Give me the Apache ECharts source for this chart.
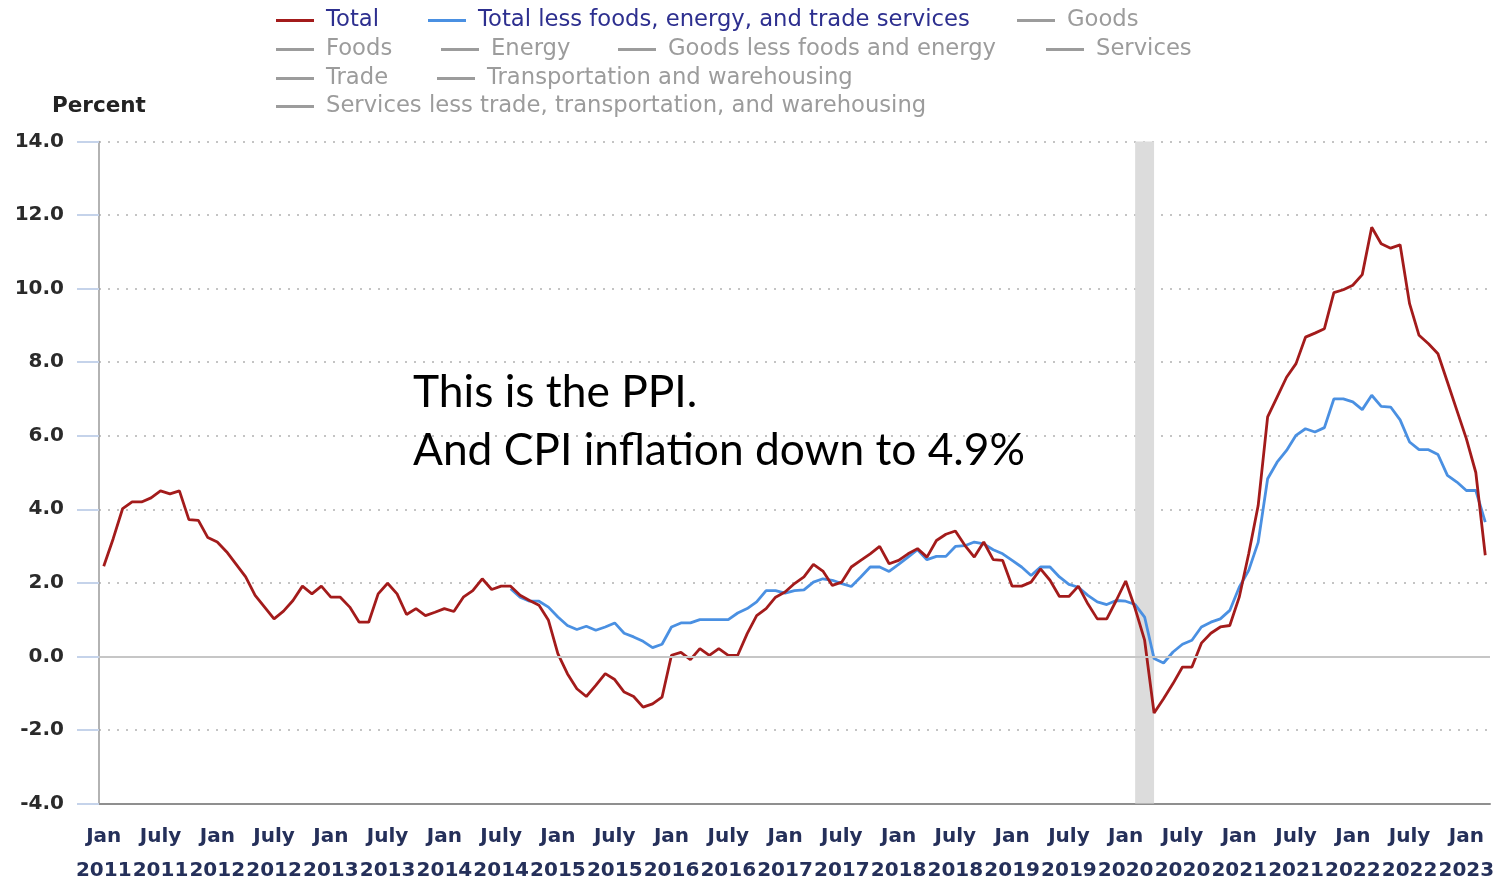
<!DOCTYPE html>
<html>
<head>
<meta charset="utf-8">
<title>PPI final demand, 12-month percent change</title>
<script src="https://cdn.jsdelivr.net/npm/echarts@6/dist/echarts.min.js"></script>
<style>
  html, body { margin: 0; padding: 0; background: #fff; }
  #chart { width: 1497px; height: 880px; }
</style>
</head>
<body>
<div id="chart"></div>
<script>
// Month names as used on the axis
const monthNames = ['Jan', 'Feb', 'Mar', 'Apr', 'May', 'June', 'July', 'Aug', 'Sep', 'Oct', 'Nov', 'Dec'];
const firstYear = 2011;
const lastYear = 2023;
const lastMonthIndex = 2; // March of the last year

// Final demand, 12-month percent change (Jan 2011 onward)
const totalValues = [
  2.45, 3.2, 4.02, 4.2, 4.2, 4.31, 4.5, 4.42, 4.5, 3.72, 3.7, 3.23,
  3.11, 2.84, 2.5, 2.16, 1.66, 1.34, 1.02, 1.23, 1.52, 1.91, 1.7, 1.91,
  1.61, 1.61, 1.34, 0.93, 0.93, 1.7, 1.99, 1.7, 1.14, 1.3, 1.11, 1.2,
  1.3, 1.22, 1.61, 1.79, 2.11, 1.82, 1.91, 1.91, 1.66, 1.52, 1.39, 0.98,
  0.07, -0.47, -0.88, -1.09, -0.79, -0.47, -0.63, -0.97, -1.09, -1.38, -1.29, -1.11,
  0.03, 0.11, -0.09, 0.21, 0.03, 0.21, 0.03, 0.03, 0.62, 1.11, 1.3, 1.61,
  1.75, 1.98, 2.16, 2.5, 2.32, 1.93, 2.02, 2.43, 2.61, 2.79, 2.99, 2.52,
  2.61, 2.79, 2.93, 2.7, 3.15, 3.32, 3.41, 3.02, 2.7, 3.11, 2.63, 2.61,
  1.91, 1.91, 2.02, 2.38, 2.07, 1.63, 1.63, 1.91, 1.43, 1.02, 1.02, 1.52,
  2.05, 1.3, 0.44, -1.54, -1.15, -0.74, -0.29, -0.29, 0.36, 0.63, 0.8, 0.84,
  1.61, 2.79, 4.1, 6.51, 7.05, 7.59, 7.96, 8.68, 8.79, 8.91, 9.89, 9.97,
  10.09, 10.38, 11.67, 11.22, 11.1, 11.19, 9.59, 8.73, 8.5, 8.23, 7.46, 6.69,
  5.92, 5.0, 2.75
];

// Final demand less foods, energy, and trade services (series begins Aug 2014)
const coreStart = 'Aug 2014';
const coreValues = [
  1.84, 1.61, 1.5, 1.5, 1.34,
  1.07, 0.84, 0.73, 0.82, 0.71, 0.8, 0.91, 0.63, 0.53, 0.41, 0.24, 0.33,
  0.8, 0.91, 0.91, 1.0, 1.0, 1.0, 1.0, 1.18, 1.3, 1.48, 1.79, 1.79,
  1.72, 1.79, 1.81, 2.02, 2.11, 2.07, 1.98, 1.9, 2.16, 2.43, 2.43, 2.31,
  2.5, 2.7, 2.9, 2.63, 2.72, 2.72, 2.99, 3.01, 3.11, 3.06, 2.9, 2.79,
  2.61, 2.43, 2.2, 2.43, 2.43, 2.16, 1.96, 1.88, 1.66, 1.48, 1.41, 1.52,
  1.5, 1.41, 1.07, -0.06, -0.18, 0.12, 0.33, 0.44, 0.8, 0.93, 1.02, 1.25,
  1.88, 2.34, 3.1, 4.83, 5.28, 5.6, 6.01, 6.19, 6.1, 6.22, 7.0, 7.0,
  6.92, 6.71, 7.1, 6.8, 6.78, 6.43, 5.83, 5.62, 5.62, 5.49, 4.92, 4.74,
  4.51, 4.51, 3.65
];

// Recession shading
const recession = ['Feb 2020', 'Apr 2020'];

// Series names in the legend
const shownSeries = ['Total', 'Total less foods, energy, and trade services'];
const hiddenSeries = [
  'Goods', 'Foods', 'Energy', 'Goods less foods and energy', 'Services',
  'Trade', 'Transportation and warehousing',
  'Services less trade, transportation, and warehousing'
];

// Value axis range
const yMin = -4, yMax = 14, yStep = 2;

// Build month categories
const categories = [];
for (let y = firstYear; y <= lastYear; y++) {
  const last = y === lastYear ? lastMonthIndex : 11;
  for (let m = 0; m <= last; m++) categories.push(monthNames[m] + ' ' + y);
}
const coreOffset = categories.indexOf(coreStart);
const coreSeriesData = categories.map((c, i) =>
  i < coreOffset ? null : coreValues[i - coreOffset]);

// Legend placement, one small legend per entry
const legendLayout = [
  ['Total', 276, 9],
  ['Total less foods, energy, and trade services', 428, 9],
  ['Goods', 1017, 9],
  ['Foods', 276, 38],
  ['Energy', 441, 38],
  ['Goods less foods and energy', 618, 38],
  ['Services', 1046, 38],
  ['Trade', 276, 67],
  ['Transportation and warehousing', 437, 67],
  ['Services less trade, transportation, and warehousing', 276, 95]
];

const selected = {};
hiddenSeries.forEach(n => { selected[n] = false; });

const legends = legendLayout.map(([name, left, top]) => ({
  data: [name],
  left: left,
  top: top,
  padding: 0,
  icon: 'rect',
  itemWidth: 38,
  itemHeight: 3,
  selected: selected,
  inactiveColor: '#9c9c9c',
  textStyle: {
    fontFamily: 'DejaVu Sans',
    fontSize: 22.7,
    color: '#2d2f8f',
    padding: [0, 0, 0, 7]
  }
}));

const RED = '#a31b1b';
const BLUE = '#4a90e2';

const chart = echarts.init(document.getElementById('chart'));
chart.setOption({
  animation: false,
  backgroundColor: '#ffffff',
  legend: legends,
  grid: {
    left: 99, right: 7, top: 141.5, bottom: 76.5,
    containLabel: false,
    outerBoundsMode: 'none'
  },
  graphic: [
    {
      type: 'text', left: 52, top: 95,
      style: { text: 'Percent', font: 'bold 21.5px "DejaVu Sans"', fill: '#222' }
    },
    {
      type: 'text', left: 413, top: 364, z: 10,
      style: {
        text: 'This is the PPI.\nAnd CPI inflation down to 4.9%',
        font: '44.3px Lato', fill: '#000', lineHeight: 58
      }
    }
  ],
  xAxis: {
    type: 'category',
    data: categories,
    boundaryGap: true,
    axisLine: { onZero: false, lineStyle: { color: '#8f8f8f', width: 2 } },
    axisTick: { show: false },
    splitLine: { show: false },
    axisLabel: {
      interval: (i, v) => i % 6 === 0,
      formatter: v => v.replace(' ', '\n'),
      fontFamily: 'DejaVu Sans',
      fontWeight: 'bold',
      fontSize: 20,
      lineHeight: 34,
      color: '#25305a',
      margin: 16
    }
  },
  yAxis: {
    type: 'value',
    min: yMin, max: yMax, interval: yStep,
    axisLine: { show: true, lineStyle: { color: '#9a9a9a', width: 1.5 } },
    axisTick: { show: true, length: 22, lineStyle: { color: '#c5d3ea', width: 2 } },
    splitLine: { show: true, lineStyle: { color: '#c4c4c4', type: [2, 7], width: 2 } },
    axisLabel: {
      formatter: v => v.toFixed(1),
      fontFamily: 'DejaVu Sans',
      fontWeight: 'bold',
      fontSize: 20,
      color: '#2a2a2a',
      margin: 35
    }
  },
  series: [
    {
      name: 'reference',
      type: 'line',
      data: [],
      z: 1,
      silent: true,
      markArea: {
        silent: true,
        itemStyle: { color: '#dcdcdc' },
        data: [[{ xAxis: recession[0] }, { xAxis: recession[1] }]]
      },
      markLine: {
        silent: true,
        symbol: 'none',
        label: { show: false },
        lineStyle: { color: '#c6c6c6', type: 'solid', width: 2 },
        data: [{ yAxis: 0 }]
      }
    },
    {
      name: shownSeries[0],
      type: 'line',
      data: totalValues,
      z: 4,
      showSymbol: false,
      lineStyle: { color: RED, width: 2.8 },
      itemStyle: { color: RED }
    },
    {
      name: shownSeries[1],
      type: 'line',
      data: coreSeriesData,
      z: 3,
      showSymbol: false,
      lineStyle: { color: BLUE, width: 2.8 },
      itemStyle: { color: BLUE }
    },
    ...hiddenSeries.map(n => ({
      name: n, type: 'line', data: [], showSymbol: false,
      lineStyle: { color: '#999' }, itemStyle: { color: '#999' }
    }))
  ]
});
</script>
</body>
</html>
